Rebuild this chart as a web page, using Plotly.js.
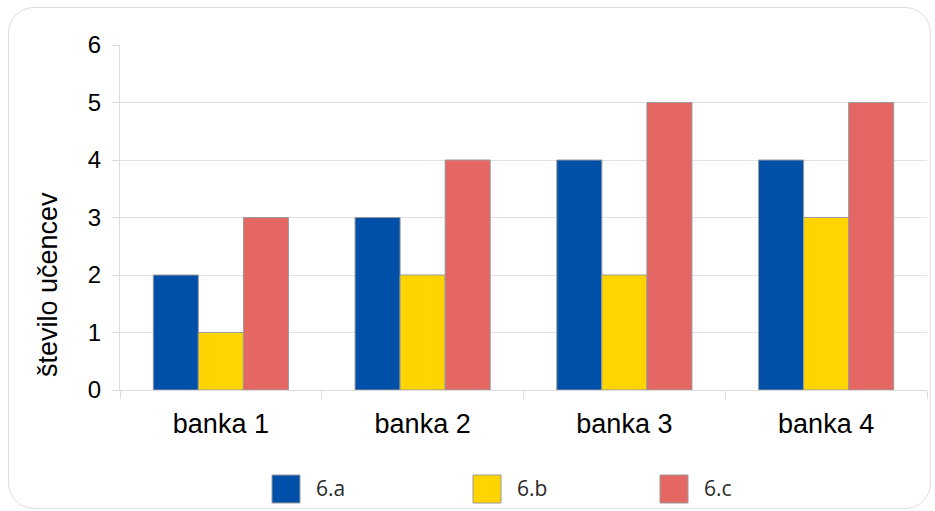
<!DOCTYPE html>
<html>
<head>
<meta charset="utf-8">
<script src="https://cdn.plot.ly/plotly-3.0.1.min.js"></script>
<style>
  html, body { margin:0; padding:0; background:#fff; }
  #chart { position:absolute; left:0; top:0; width:935px; height:511px; }
  #frame { position:absolute; left:8px; top:7px; width:923px; height:502px;
           border:1px solid #dcdcdc; border-radius:26px; pointer-events:none; box-sizing:border-box; }
</style>
</head>
<body>
<div id="chart"></div>
<div id="frame"></div>
<script>
const categories = ["banka 1", "banka 2", "banka 3", "banka 4"];
const seriesNames = ["6.a", "6.b", "6.c"];
const values6a = [2, 3, 4, 4];
const values6b = [1, 2, 2, 3];
const values6c = [3, 4, 5, 5];
const colors = ["#0050AA", "#FFD400", "#E46764"];
const yTicks = [0, 1, 2, 3, 4, 5, 6];
const yTitle = "število učencev";

const allValues = [values6a, values6b, values6c];
const traces = seriesNames.map((n, i) => ({
  type: "bar", name: n, x: categories, y: allValues[i],
  marker: { color: colors[i], line: { color: "#9a9a9a", width: 1 } },
  showlegend: false, hoverinfo: "x+y+name"
}));

const legX = [272, 473, 660];
const W = 935, H = 511, L = 120, R = 8, T = 45, B = 121;
const pw = W - L - R, ph = H - T - B;
const px = x => (x - L) / pw;
const py = y => (H - B - y) / ph;
const shapes = [], annotations = [];
seriesNames.forEach((n, i) => {
  shapes.push({ type: "rect", xref: "paper", yref: "paper",
    x0: px(legX[i]), x1: px(legX[i] + 28), y0: py(503), y1: py(475),
    fillcolor: colors[i], line: { color: "#9a9a9a", width: 1 } });
  annotations.push({ xref: "paper", yref: "paper", x: px(legX[i] + 42), y: py(488),
    xanchor: "left", yanchor: "middle", text: n, showarrow: false,
    font: { family: "Open Sans, Noto Sans, sans-serif", size: 21, color: "#2a2a2a" } });
});
annotations.push({ xref: "paper", yref: "paper", x: px(48), y: py(285),
  xanchor: "center", yanchor: "middle", textangle: -90, text: yTitle, showarrow: false,
  font: { family: "Liberation Sans, Arial, sans-serif", size: 27, color: "#000" } });

const layout = {
  width: W, height: H,
  margin: { l: L, r: R, t: T, b: B, pad: 0 },
  paper_bgcolor: "#fff", plot_bgcolor: "#fff",
  barmode: "group", bargap: 0.33, bargroupgap: 0,
  font: { family: "Liberation Sans, Arial, sans-serif", color: "#000" },
  xaxis: {
    type: "category", tickson: "boundaries", ticks: "outside", ticklen: 8,
    tickcolor: "#dcdcdc", showline: true, linecolor: "#dcdcdc", showgrid: false,
    ticklabelstandoff: 10,
    tickfont: { size: 27, family: "Liberation Sans, Arial, sans-serif" }
  },
  yaxis: {
    range: [0, 6], tickvals: yTicks, ticks: "outside", ticklen: 7, tickcolor: "#dcdcdc",
    showgrid: true, gridcolor: "#e2e2e2", showline: true, linecolor: "#dcdcdc",
    zeroline: false, ticklabelstandoff: 6,
    tickfont: { size: 24, family: "Liberation Sans, Arial, sans-serif" }
  },
  shapes: shapes, annotations: annotations
};
Plotly.newPlot("chart", traces, layout, { displayModeBar: false, staticPlot: true });
</script>
</body>
</html>
